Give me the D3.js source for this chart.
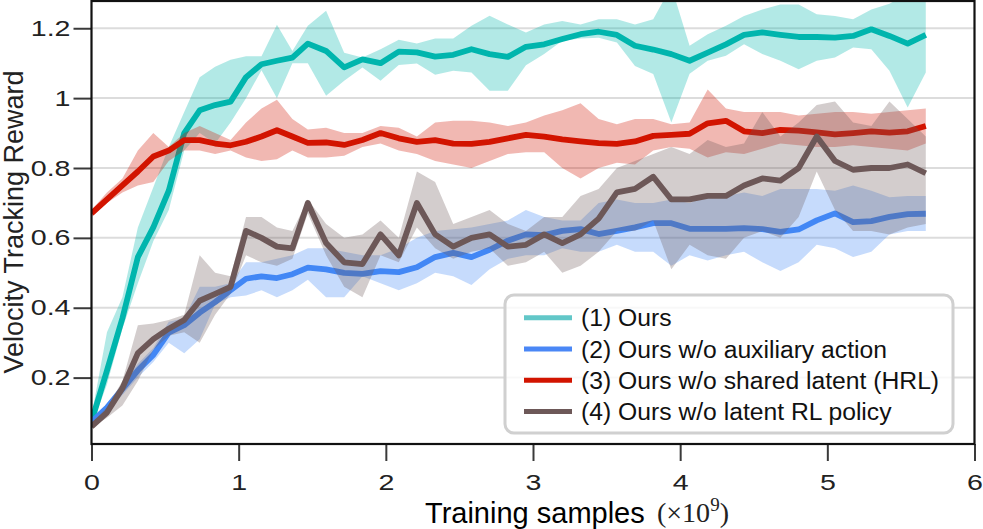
<!DOCTYPE html>
<html lang="en">
<head>
<meta charset="UTF-8">
<title>Velocity tracking reward vs training samples</title>
<script src="https://d3js.org/d3.v7.min.js"></script>
<style>
    body { margin: 0; background: #fff; }
    svg { display: block; font-family: "Liberation Sans", Arial, sans-serif; }
</style>
</head>
<body>
<svg width="983" height="529"></svg>
<script>
// training samples (x 1e9), shared by all runs
const samples = [0, 0.105, 0.21, 0.315, 0.42, 0.525, 0.63, 0.735, 0.84, 0.945,
    1.05, 1.155, 1.26, 1.365, 1.47, 1.594, 1.717, 1.841, 1.964, 2.088,
    2.211, 2.335, 2.458, 2.582, 2.705, 2.829, 2.952, 3.076, 3.199, 3.323,
    3.446, 3.57, 3.693, 3.817, 3.94, 4.064, 4.187, 4.311, 4.434, 4.558,
    4.681, 4.805, 4.928, 5.052, 5.175, 5.299, 5.422, 5.546, 5.669];

// (1) Ours
const oursMean = [0.075, 0.22, 0.37, 0.545, 0.63, 0.735, 0.90, 0.965, 0.98, 0.99,
    1.06, 1.097, 1.107, 1.116, 1.156, 1.135, 1.088, 1.111, 1.10, 1.133,
    1.131, 1.119, 1.124, 1.14, 1.126, 1.118, 1.147, 1.154, 1.169, 1.183,
    1.19, 1.181, 1.15, 1.139, 1.126, 1.107, 1.13, 1.154, 1.181, 1.188,
    1.181, 1.175, 1.175, 1.173, 1.178, 1.197, 1.178, 1.156, 1.181];
const oursLow = [0.06, 0.18, 0.34, 0.47, 0.59, 0.68, 0.85, 0.90, 0.87, 0.93,
    1.00, 1.08, 1.00, 1.10, 1.10, 1.007, 1.05, 1.088, 1.05, 1.095,
    1.099, 1.067, 1.078, 1.073, 1.021, 1.021, 1.094, 1.126, 1.164, 1.171,
    1.173, 1.159, 1.092, 1.069, 0.93, 1.07, 1.107, 1.121, 1.154, 1.126,
    1.107, 1.083, 1.107, 1.116, 1.145, 1.14, 1.078, 0.973, 1.073];
const oursHigh = [0.09, 0.33, 0.43, 0.63, 0.745, 0.86, 0.96, 1.06, 1.09, 1.11,
    1.12, 1.12, 1.21, 1.135, 1.207, 1.25, 1.13, 1.116, 1.14, 1.167,
    1.156, 1.171, 1.171, 1.207, 1.236, 1.211, 1.188, 1.211, 1.221, 1.211,
    1.226, 1.226, 1.211, 1.226, 1.32, 1.15, 1.183, 1.207, 1.235, 1.254,
    1.268, 1.268, 1.24, 1.235, 1.226, 1.254, 1.27, 1.30, 1.30];

// (2) Ours w/o auxiliary action
const auxMean = [0.073, 0.114, 0.168, 0.221, 0.265, 0.329, 0.35, 0.386, 0.416, 0.45,
    0.483, 0.49, 0.485, 0.496, 0.515, 0.51, 0.50, 0.497, 0.505, 0.502,
    0.516, 0.545, 0.557, 0.545, 0.566, 0.592, 0.61, 0.608, 0.62, 0.625,
    0.611, 0.62, 0.63, 0.642, 0.642, 0.626, 0.626, 0.626, 0.628, 0.625,
    0.617, 0.624, 0.65, 0.67, 0.645, 0.648, 0.66, 0.668, 0.669];
const auxLow = [0.065, 0.10, 0.15, 0.20, 0.245, 0.30, 0.27, 0.31, 0.41, 0.43,
    0.435, 0.45, 0.43, 0.45, 0.48, 0.43, 0.43, 0.49, 0.47, 0.45,
    0.47, 0.50, 0.49, 0.465, 0.51, 0.54, 0.55, 0.55, 0.57, 0.56,
    0.56, 0.58, 0.56, 0.56, 0.52, 0.55, 0.535, 0.55, 0.56, 0.53,
    0.505, 0.53, 0.58, 0.57, 0.545, 0.56, 0.61, 0.62, 0.62];
const auxHigh = [0.08, 0.125, 0.18, 0.24, 0.285, 0.36, 0.37, 0.46, 0.46, 0.47,
    0.53, 0.53, 0.54, 0.55, 0.57, 0.57, 0.56, 0.55, 0.55, 0.57,
    0.60, 0.62, 0.625, 0.63, 0.64, 0.65, 0.68, 0.66, 0.65, 0.65,
    0.70, 0.71, 0.70, 0.70, 0.71, 0.70, 0.72, 0.72, 0.73, 0.72,
    0.74, 0.74, 0.74, 0.735, 0.75, 0.735, 0.716, 0.72, 0.72];

// (3) Ours w/o shared latent (HRL)
const hrlMean = [0.67, 0.71, 0.75, 0.79, 0.833, 0.85, 0.88, 0.88, 0.87, 0.865,
    0.875, 0.89, 0.908, 0.89, 0.872, 0.873, 0.866, 0.88, 0.90, 0.885,
    0.875, 0.88, 0.87, 0.869, 0.875, 0.885, 0.895, 0.89, 0.882, 0.876,
    0.871, 0.869, 0.876, 0.892, 0.895, 0.898, 0.928, 0.935, 0.905, 0.90,
    0.909, 0.907, 0.902, 0.896, 0.90, 0.905, 0.901, 0.905, 0.92];
const hrlLow = [0.66, 0.70, 0.73, 0.75, 0.76, 0.82, 0.85, 0.85, 0.84, 0.85,
    0.83, 0.82, 0.825, 0.85, 0.83, 0.83, 0.835, 0.86, 0.87, 0.85,
    0.84, 0.82, 0.81, 0.80, 0.82, 0.84, 0.845, 0.845, 0.80, 0.77,
    0.80, 0.815, 0.81, 0.85, 0.86, 0.855, 0.83, 0.845, 0.84, 0.855,
    0.87, 0.865, 0.86, 0.86, 0.865, 0.86, 0.855, 0.85, 0.87];
const hrlHigh = [0.68, 0.73, 0.77, 0.85, 0.90, 0.86, 0.90, 0.92, 0.90, 0.88,
    0.93, 0.97, 0.995, 0.94, 0.91, 0.915, 0.90, 0.90, 0.92, 0.915,
    0.89, 0.93, 0.935, 0.935, 0.93, 0.92, 0.93, 0.95, 0.965, 0.985,
    0.94, 0.925, 0.94, 0.94, 0.925, 0.93, 1.025, 0.97, 0.96, 0.96,
    0.96, 0.95, 0.955, 0.96, 0.96, 0.955, 0.96, 0.965, 0.97];

// (4) Ours w/o latent RL policy
const policyMean = [0.06, 0.10, 0.17, 0.27, 0.31, 0.34, 0.365, 0.42, 0.44, 0.46,
    0.62, 0.60, 0.575, 0.57, 0.70, 0.585, 0.53, 0.525, 0.61, 0.55,
    0.70, 0.61, 0.575, 0.60, 0.61, 0.575, 0.58, 0.61, 0.585, 0.61,
    0.655, 0.73, 0.74, 0.775, 0.71, 0.71, 0.72, 0.72, 0.75, 0.77,
    0.764, 0.80, 0.89, 0.82, 0.795, 0.80, 0.80, 0.81, 0.785];
const policyLow = [0.055, 0.085, 0.12, 0.19, 0.28, 0.32, 0.33, 0.30, 0.38, 0.44,
    0.55, 0.53, 0.52, 0.54, 0.67, 0.55, 0.46, 0.43, 0.55, 0.53,
    0.63, 0.57, 0.54, 0.56, 0.57, 0.52, 0.53, 0.56, 0.50, 0.52,
    0.56, 0.62, 0.62, 0.65, 0.51, 0.58, 0.55, 0.54, 0.60, 0.62,
    0.60, 0.66, 0.79, 0.68, 0.62, 0.62, 0.61, 0.63, 0.64];
const policyHigh = [0.07, 0.115, 0.19, 0.35, 0.355, 0.365, 0.38, 0.55, 0.50, 0.49,
    0.66, 0.66, 0.63, 0.62, 0.71, 0.64, 0.60, 0.61, 0.65, 0.60,
    0.79, 0.76, 0.64, 0.66, 0.68, 0.64, 0.62, 0.66, 0.66, 0.72,
    0.74, 0.80, 0.82, 0.84, 0.86, 0.84, 0.88, 0.86, 0.87, 0.96,
    0.89, 0.93, 0.98, 0.99, 0.93, 0.92, 0.99, 0.94, 0.89];

const labels = ["(1) Ours", "(2) Ours w/o auxiliary action",
    "(3) Ours w/o shared latent (HRL)", "(4) Ours w/o latent RL policy"];
const xTicks = [0, 1, 2, 3, 4, 5, 6];
const yTicks = [0.2, 0.4, 0.6, 0.8, 1.0, 1.2];

const series = [
    {name: labels[0], mean: oursMean, low: oursLow, high: oursHigh, color: "#00b5ad", key: "#62c7c8"},
    {name: labels[1], mean: auxMean, low: auxLow, high: auxHigh, color: "#4287f5", key: "#4a87f6"},
    {name: labels[2], mean: hrlMean, low: hrlLow, high: hrlHigh, color: "#d21400", key: "#d21400"},
    {name: labels[3], mean: policyMean, low: policyLow, high: policyHigh, color: "#6d5858", key: "#6d5858"}
];

const svg = d3.select("svg");
const plotLeft = 91.5, plotRight = 974.5, plotTop = 1, plotBottom = 444;

const x = d3.scaleLinear().domain([0, 6]).range([plotLeft, plotRight]);
const y = d3.scaleLinear().domain([0.01, 1.278]).range([plotBottom, plotTop]);

svg.append("defs").append("clipPath").attr("id", "plotclip")
    .append("rect")
    .attr("x", plotLeft).attr("y", plotTop)
    .attr("width", plotRight - plotLeft).attr("height", plotBottom - plotTop);

// horizontal grid
svg.append("g")
    .selectAll("line")
    .data(yTicks)
    .join("line")
    .attr("x1", plotLeft).attr("x2", plotRight)
    .attr("y1", d => y(d)).attr("y2", d => y(d))
    .attr("stroke", "#dcdcdc")
    .attr("stroke-width", 2);

let plot = svg.append("g").attr("clip-path", "url(#plotclip)");

series.forEach(s => {
    let area = d3.area()
        .x((d, i) => x(samples[i]))
        .y0((d, i) => y(s.low[i]))
        .y1((d, i) => y(s.high[i]));
    let line = d3.line()
        .x((d, i) => x(samples[i]))
        .y(d => y(d));

    plot.append("path")
        .datum(s.mean)
        .attr("d", area)
        .attr("fill", s.color)
        .attr("fill-opacity", 0.3);

    plot.append("path")
        .datum(s.mean)
        .attr("d", line)
        .attr("fill", "none")
        .attr("stroke", s.color)
        .attr("stroke-width", 5.8)
        .attr("stroke-linejoin", "round")
        .attr("stroke-linecap", "butt");
});

// axes
let yAxis = svg.append("g")
    .attr("transform", `translate(${plotLeft},0)`)
    .call(d3.axisLeft(y).tickValues(yTicks).tickSize(18).tickPadding(3)
        .tickFormat(d => d === 1 ? "1" : d3.format(".1f")(d)));
let xAxis = svg.append("g")
    .attr("transform", `translate(0,${plotBottom})`)
    .call(d3.axisBottom(x).tickValues(xTicks).tickSize(17).tickPadding(13)
        .tickFormat(d3.format("d")));

[yAxis, xAxis].forEach(a => {
    a.select(".domain").remove();
    a.selectAll(".tick line").attr("stroke", "#3a3a3a").attr("stroke-width", 2);
    a.selectAll(".tick text")
        .attr("fill", "#222")
        .style("font-size", "22px")
        .style("font-family", "'Liberation Sans', Arial, sans-serif")
        // the tick digits in the figure are drawn wider than plain Arial
        .attr("transform", function() {
            let x0 = +d3.select(this).attr("x") || 0;
            return `translate(${x0},0) scale(1.3,1) translate(${-x0},0)`;
        });
});

// frame
svg.append("rect")
    .attr("x", plotLeft).attr("y", plotTop)
    .attr("width", plotRight - plotLeft).attr("height", plotBottom - plotTop)
    .attr("fill", "none")
    .attr("stroke", "#111")
    .attr("stroke-width", 2.2);

// axis titles
svg.append("text")
    .attr("transform", "translate(23,222) rotate(-90)")
    .attr("text-anchor", "middle")
    .attr("fill", "#222")
    .style("font-size", "27px")
    .text("Velocity Tracking Reward");

svg.append("text")
    .attr("x", 425).attr("y", 523)
    .attr("fill", "#000")
    .style("font-size", "29px")
    .text("Training samples");

let unit = svg.append("text")
    .attr("x", 657).attr("y", 522)
    .attr("fill", "#222")
    .style("font-family", "'Liberation Serif', 'DejaVu Serif', serif")
    .style("font-size", "28px");
unit.append("tspan").text("(\u00d710");
unit.append("tspan").attr("dy", -11).style("font-size", "19px").text("9");
unit.append("tspan").attr("dy", 11).text(")");

// legend
let legend = svg.append("g");
legend.append("rect")
    .attr("x", 505).attr("y", 295)
    .attr("width", 448).attr("height", 138)
    .attr("rx", 9)
    .attr("fill", "#fff").attr("fill-opacity", 0.8)
    .attr("stroke", "#d0d0d0").attr("stroke-width", 3);

let rows = legend.selectAll("g.row")
    .data(series)
    .join("g")
    .attr("class", "row")
    .attr("transform", (d, i) => `translate(0,${317.7 + i * 31.3})`);
rows.append("line")
    .attr("x1", 524).attr("x2", 572)
    .attr("stroke", d => d.key)
    .attr("stroke-width", 5);
rows.append("text")
    .attr("x", 581).attr("dy", "0.35em")
    .attr("fill", "#111")
    .style("font-size", "24.7px")
    .text(d => d.name);
</script>
</body>
</html>
